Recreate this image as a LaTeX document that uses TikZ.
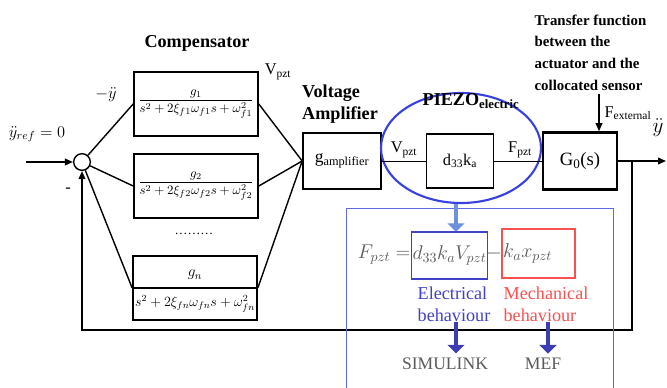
\documentclass[tikz,border=0pt]{standalone}
\usepackage{fix-cm}
\usepackage{amsmath, amssymb}
\usepackage{fontspec}
\setmainfont{Liberation Serif}
\usetikzlibrary{arrows.meta, shapes.geometric}
\definecolor{piezoblue}{RGB}{55,65,225}
\definecolor{lightarrow}{RGB}{110,145,220}
\definecolor{darkarrow}{RGB}{60,60,180}
\definecolor{elecblue}{RGB}{65,65,200}
\definecolor{mechred}{RGB}{250,80,80}
\definecolor{eqgray}{RGB}{90,90,90}

\begin{document}
\begin{tikzpicture}[x=0.03cm, y=-0.03cm, line width=1.2pt,
    >={Triangle[length=2.4mm, width=2mm]},
    blk/.style={draw, line width=1.4pt, minimum width=3.72cm, minimum height=1.92cm, inner sep=0pt},
    lbl/.style={font=\fontsize{14}{16}\selectfont},
    ttl/.style={font=\bfseries\fontsize{15.5}{19}\selectfont, align=left},
    frac/.style={font=\fontsize{11}{13}\selectfont},
    eq/.style={font=\fontsize{17}{19}\selectfont, text=eqgray, inner sep=1pt},
    beh/.style={font=\fontsize{15.5}{19}\selectfont, align=left},
    fat/.style={line width=3.5pt, -{Triangle[length=2.6mm, width=5mm]}}]
\useasboundingbox (0,0) rectangle (667,387);

\node[draw, circle, minimum size=0.5cm, inner sep=0pt] (sum) at (82,162) {};
\coordinate (ref) at (26,162);
\node[blk, frac] (c1) at (196,104) {$\dfrac{g_1}{s^2+2\xi_{f1}\omega_{f1}s+\omega_{f1}^2}$};
\node[blk, frac] (c2) at (196,186) {$\dfrac{g_2}{s^2+2\xi_{f2}\omega_{f2}s+\omega_{f2}^2}$};
\node[frac] (dots) at (194,234) {\dots\dots\dots};
\node[blk] (cn) at (195,288) {};
\node[font=\fontsize{13}{15}\selectfont] (gn) at (195,275) {$g_n$};
\node[font=\fontsize{12}{14}\selectfont] (dn) at (195,304) {$s^2+2\xi_{fn}\omega_{fn}s+\omega_{fn}^2$};
\draw (cn.west) -- (cn.east);

\node[draw, line width=1.4pt, minimum width=2.34cm, minimum height=1.68cm, font=\fontsize{15}{17}\selectfont] (amp) at (342,161) {g\textsubscript{amplifier}};
\node[draw, line width=1.4pt, minimum width=2.01cm, minimum height=1.62cm, lbl] (d33) at (460,161) {d\textsubscript{33}k\textsubscript{a}};
\node[draw, line width=2.2pt, minimum width=2.22cm, minimum height=1.71cm, font=\fontsize{16}{18}\selectfont] (g0) at (580,161) {G\textsubscript{0}(s)};
\node[draw=piezoblue, ellipse, line width=1.8pt, minimum width=4.8cm, minimum height=3.3cm] (piezo) at (461,148) {};

\draw[->] (ref) -- (sum);
\draw (sum) -- (c1.west);
\draw (sum) -- (c2.west);
\draw (sum) -- (cn.west);
\draw (c1.east) -- (amp.west);
\draw (c2.east) -- (amp.west);
\draw (cn.east) -- (amp.west);
\draw[line width=0.8pt] (amp) -- (d33);
\draw[line width=0.8pt] (d33) -- (g0);

\coordinate (tap) at (632,161);
\coordinate (out) at (666,161);
\coordinate (fbc) at (632,330);
\coordinate (fext) at (599,94);
\draw[->] (g0) -- (out);
\draw[->] (tap) -- (fbc) -| (sum);
\draw[->] (fext) -- (fext |- g0.north);

\node[ttl] (comptitle) at (197,43) {Compensator};
\node[lbl] (negy) at (106,95) {$-\ddot{y}$};
\node[lbl] (yref) at (37,134) {$\ddot{y}_{ref}=0$};
\node[lbl] (minussign) at (68,190) {-};
\node[lbl] (vpzta) at (278,72) {V\textsubscript{pzt}};
\node[ttl] (amptitle) at (340,104) {Voltage\\Amplifier};
\node[ttl] (piezotitle) at (471,101) {PIEZO\textsubscript{electric}};
\node[lbl] (vpztb) at (404,150) {V\textsubscript{pzt}};
\node[lbl] (fpzt) at (520,150) {F\textsubscript{pzt}};
\node[font=\bfseries\fontsize{12.7}{18.5}\selectfont, align=left, anchor=north west] (tftext) at (530,10) {Transfer function\\between the\\actuator and the\\collocated sensor};
\node[lbl, anchor=west] (fexttext) at (600,113) {F\textsubscript{external}};
\node[font=\fontsize{18}{20}\selectfont] (outy) at (658,128) {$\ddot{y}$};

\draw[piezoblue!80, line width=0.6pt] (346,208) rectangle (613,392);
\coordinate (eqtop) at (456,232);
\draw[lightarrow, fat] (eqtop |- piezo.south) -- (eqtop);

\node[eq, anchor=east] (feq) at (412,255) {$F_{pzt}=$};
\node[eq, draw=elecblue, line width=1.2pt, minimum width=2.25cm, minimum height=1.41cm] (elec) at (449.5,255.5) {$d_{33}k_aV_{pzt}$};
\node[eq] (minus) at (494,254) {$-$};
\node[draw=mechred, line width=1.2pt, minimum width=2.19cm, minimum height=1.47cm] (mech) at (538.5,253.5) {};
\node[eq, anchor=west] (mechtext) at (mech.west) {$k_ax_{pzt}$};

\node[beh, text=elecblue] (electext) at (454,304) {Electrical\\behaviour};
\node[beh, text=mechred] (mechlbl) at (546,304) {Mechanical\\behaviour};

\coordinate (simarr) at (456,322);
\coordinate (mefarr) at (548,322);
\node[font=\fontsize{15}{17}\selectfont, text=eqgray] (simulink) at (445,364) {SIMULINK};
\node[font=\fontsize{15}{17}\selectfont, text=eqgray] (mef) at (543,364) {MEF};
\draw[darkarrow, fat] (simarr) -- (simarr |- simulink.north);
\draw[darkarrow, fat] (mefarr) -- (mefarr |- mef.north);
\end{tikzpicture}
\end{document}
